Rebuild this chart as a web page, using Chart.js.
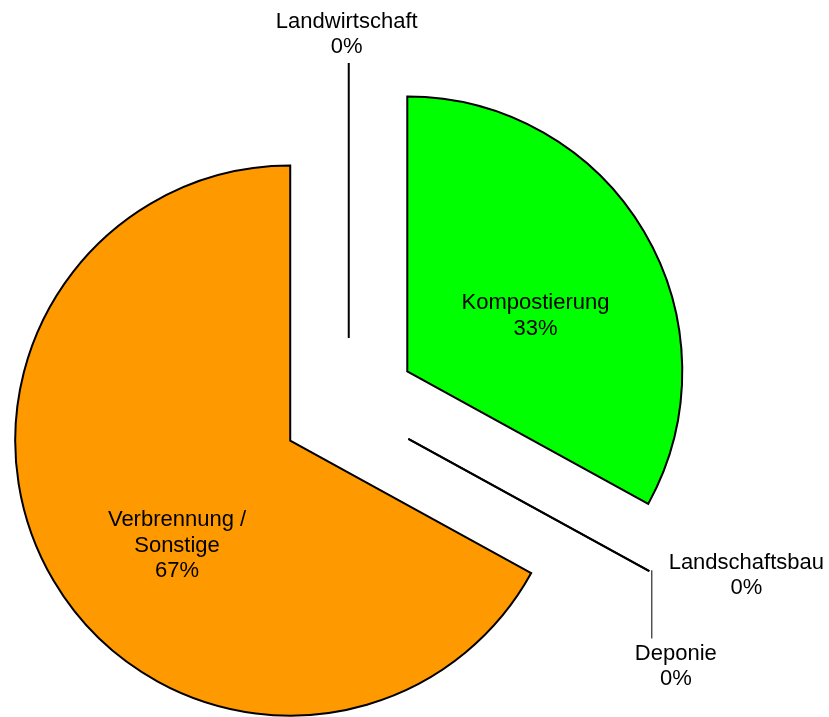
<!DOCTYPE html>
<html>
<head>
<meta charset="utf-8">
<script src="https://cdn.jsdelivr.net/npm/chart.js"></script>
<style>
  html, body { margin: 0; padding: 0; background: #fff; }
  #wrap { width: 829px; height: 717px; }
</style>
</head>
<body>
<div id="wrap"><canvas id="pieChart"></canvas></div>
<script>
// Daten
let categories = ['Kompostierung', 'Landschaftsbau', 'Deponie', 'Verbrennung / Sonstige', 'Landwirtschaft']
let shares = [33, 0, 0, 67, 0]
let sliceColors = ['#00FF00', '#FFFFFF', '#FFFFFF', '#FF9900', '#FFFFFF']

// Beschriftung: innen oder aussen, plus kleine Verschiebung in Pixel
let labelInside = [true, false, false, true, false]
let labelNudge = [[-2, 21.5], [97, 4], [26.5, 95], [17, 28], [-2, -28.5]]
let labelLeader = [false, false, true, false, false]

let explode = 68
let pieRadius = 275
let lineHeight = 25.5

let canvas = document.getElementById('pieChart')

// Segmente auseinanderziehen (Kreismitte fest, jedes Stück entlang seiner Mitte verschoben)
let explodePlugin = {
  id: 'explode',
  beforeDatasetsDraw(chart) {
    let area = chart.chartArea
    let cx = (area.left + area.right) / 2
    let cy = (area.top + area.bottom) / 2
    let arcs = chart.getDatasetMeta(0).data
    for (let i = 0; i < arcs.length; i++) {
      let mid = (arcs[i].startAngle + arcs[i].endAngle) / 2
      arcs[i].x = cx + Math.cos(mid) * explode
      arcs[i].y = cy + Math.sin(mid) * explode
    }
  },
  afterDatasetsDraw(chart) {
    let ctx = chart.ctx
    let arcs = chart.getDatasetMeta(0).data
    let total = shares.reduce((a, b) => a + b, 0)
    ctx.save()

    // 0%-Segmente als Linie
    for (let i = 0; i < arcs.length; i++) {
      let arc = arcs[i]
      if (arc.endAngle - arc.startAngle > 0) continue
      let a = arc.startAngle
      ctx.beginPath()
      ctx.moveTo(arc.x, arc.y)
      ctx.lineTo(arc.x + Math.cos(a) * arc.outerRadius, arc.y + Math.sin(a) * arc.outerRadius)
      ctx.lineWidth = 2
      ctx.strokeStyle = '#000'
      ctx.stroke()
    }

    // Texte
    ctx.font = '22px "Liberation Sans", Arial, sans-serif'
    ctx.fillStyle = '#000'
    ctx.textAlign = 'center'
    ctx.textBaseline = 'middle'
    for (let i = 0; i < arcs.length; i++) {
      let arc = arcs[i]
      let mid = (arc.startAngle + arc.endAngle) / 2
      let r = labelInside[i] ? arc.outerRadius * 0.55 : arc.outerRadius
      let ax = arc.x + Math.cos(mid) * r
      let ay = arc.y + Math.sin(mid) * r
      let lx = ax + labelNudge[i][0]
      let ly = ay + labelNudge[i][1]
      let lines = categories[i].replace(' / ', ' /\n').split('\n')
      lines.push(Math.round(shares[i] / total * 100) + '%')
      let top = ly - (lines.length - 1) / 2 * lineHeight
      for (let j = 0; j < lines.length; j++) {
        ctx.fillText(lines[j], lx, top + j * lineHeight)
      }
      if (labelLeader[i]) {
        ctx.beginPath()
        ctx.moveTo(ax + 2.5, ay - 1)
        ctx.lineTo(ax + 2.5, top - 15)
        ctx.lineWidth = 1
        ctx.strokeStyle = '#000'
        ctx.stroke()
      }
    }
    ctx.restore()
  },
}

new Chart(canvas, {
  type: 'pie',
  data: {
    labels: categories,
    datasets: [
      {
        data: shares,
        backgroundColor: sliceColors,
        borderColor: '#000000',
        borderWidth: 2,
        borderJoinStyle: 'miter',
      },
    ],
  },
  options: {
    responsive: true,
    maintainAspectRatio: false,
    animation: false,
    radius: pieRadius,
    layout: {
      padding: { left: 0, right: 131.5, top: 95, bottom: 0 },
    },
    plugins: {
      legend: { display: false },
      tooltip: { enabled: false },
    },
  },
  plugins: [explodePlugin],
})
</script>
</body>
</html>
